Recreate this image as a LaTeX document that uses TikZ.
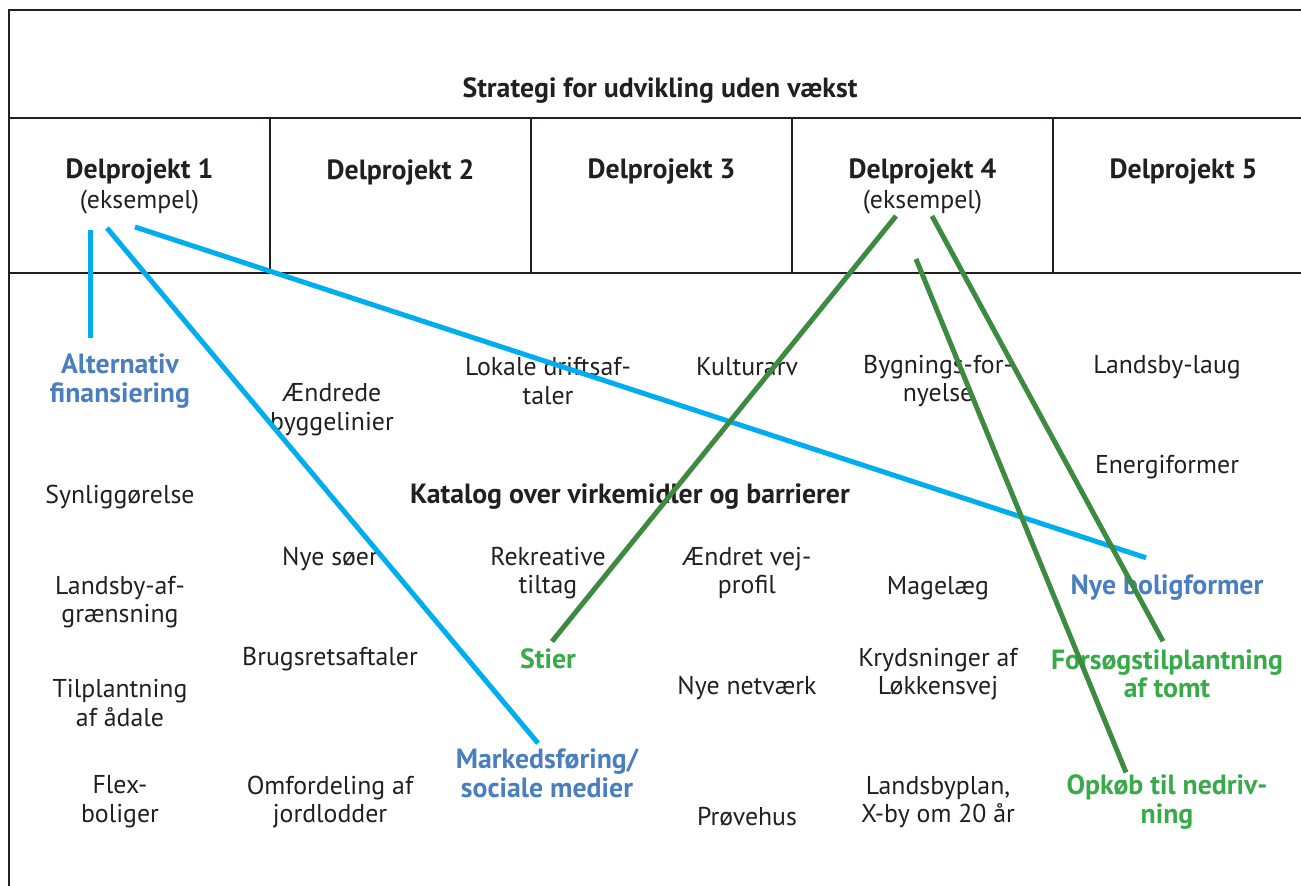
\documentclass[tikz,border=0pt]{standalone}
\usepackage{fontspec}
\setmainfont{PT Sans}
\usetikzlibrary{calc,positioning}
\definecolor{frameblack}{RGB}{35,31,32}
\definecolor{linkblue}{RGB}{0,174,239}
\definecolor{linkgreen}{RGB}{61,139,64}
\definecolor{tagblue}{RGB}{74,126,191}
\definecolor{taggreen}{RGB}{57,170,73}

\begin{document}
\begin{tikzpicture}[x=0.5pt,y=-0.5pt,
	frame/.style={line width=1.3pt,draw=frameblack},
	item/.style={align=center,font=\fontsize{12.9}{14.3}\selectfont,text=frameblack,inner sep=1pt,yshift=-1.5pt},
	head/.style={item,font=\fontsize{13.9}{14.3}\selectfont\bfseries},
	bluetag/.style={head,text=tagblue},
	greentag/.style={head,text=taggreen},
	bluelink/.style={draw=linkblue,line width=2.5pt},
	greenlink/.style={draw=linkgreen,line width=2.5pt}]
\useasboundingbox (0,0) rectangle (1301,886);

% table frame
\draw[frame] (1301,10) -- (9,10) -- (9,886);
\draw[frame] (9,118) -- (1301,118);
\draw[frame] (9,273) -- (1301,273);
\foreach \x in {270,531,792,1053}
	\draw[frame] (\x,118) -- (\x,273);

\node[head] (title) at (660,88) {Strategi for udvikling uden vækst};
\foreach \n [count=\i from 0] in {1,...,5}
	\node[head] (dp\n) at ({139.5+261*\i},169) {Delprojekt \n};
\node[item] (eks1) at (139.5,199) {(eksempel)};
\node[item] (eks4) at (922.5,199) {(eksempel)};

% catalogue
\node[head] (katalog) at (630,494) {Katalog over virkemidler og barrierer};
\foreach \x/\y/\nm/\txt in {
	120/494/synlig/{Synliggørelse},
	120/599/afgr/{Landsby-af-\\grænsning},
	120/700/aadale/{Tilplantning\\af ådale},
	120/799/flex/{Flex-\\boliger},
	332/407/bygge/{Ændrede\\byggelinier},
	330/556/soeer/{Nye søer},
	330/656/brugs/{Brugsretsaftaler},
	330/799/jord/{Omfordeling af\\jordlodder},
	548/378/drift/{Lokale driftsaf-\\taler},
	548/570/rekr/{Rekreative\\tiltag},
	747/364/kultur/{Kulturarv},
	747/570/vej/{Ændret vej-\\profil},
	747/685/netv/{Nye netværk},
	747/814/proeve/{Prøvehus},
	938/378/fornyelse/{Bygnings-for-\\nyelse},
	938/585/mage/{Magelæg},
	938/671/kryds/{Krydsninger af\\Løkkensvej},
	938/799/byplan/{Landsbyplan,\\X-by om 20 år},
	1167/364/laug/{Landsby-laug},
	1167/464/energi/{Energiformer}}
	\node[item] (\nm) at (\x,\y) {\txt};

\node[bluetag] (altfin) at (120,378) {Alternativ\\finansiering};
\node[bluetag] (marked) at (547,770) {Markedsføring/\\sociale medier};
\node[bluetag] (nyebolig) at (1167,585) {Nye boligformer};
\node[greentag] (stier) at (548,656) {Stier};
\node[greentag] (forsoeg) at (1167,671) {Forsøgstilplantning\\af tomt};
\node[greentag] (opkoeb) at (1167,799) {Opkøb til nedriv-\\ning};

% links from the example projects
\coordinate (p1a) at (90,230);
\coordinate (p1b) at (107,228);
\coordinate (p1c) at (135,227);
\coordinate (p4a) at (896,216);
\coordinate (p4b) at (932,216);
\coordinate (p4c) at (916,259);
\draw[bluelink] (p1a) -- ($(altfin.north)+(-30,-13)$);
\draw[bluelink] (p1b) -- ($(marked.north)+(-9,-3)$);
\draw[bluelink] (p1c) -- ($(nyebolig.north)+(-21,-15)$);
\draw[greenlink] (p4a) -- ($(stier.north)+(4,-5)$);
\draw[greenlink] (p4b) -- ($(forsoeg.north)+(-4,-6)$);
\draw[greenlink] (p4c) -- ($(opkoeb.north)+(-41,0)$);
\end{tikzpicture}
\end{document}
